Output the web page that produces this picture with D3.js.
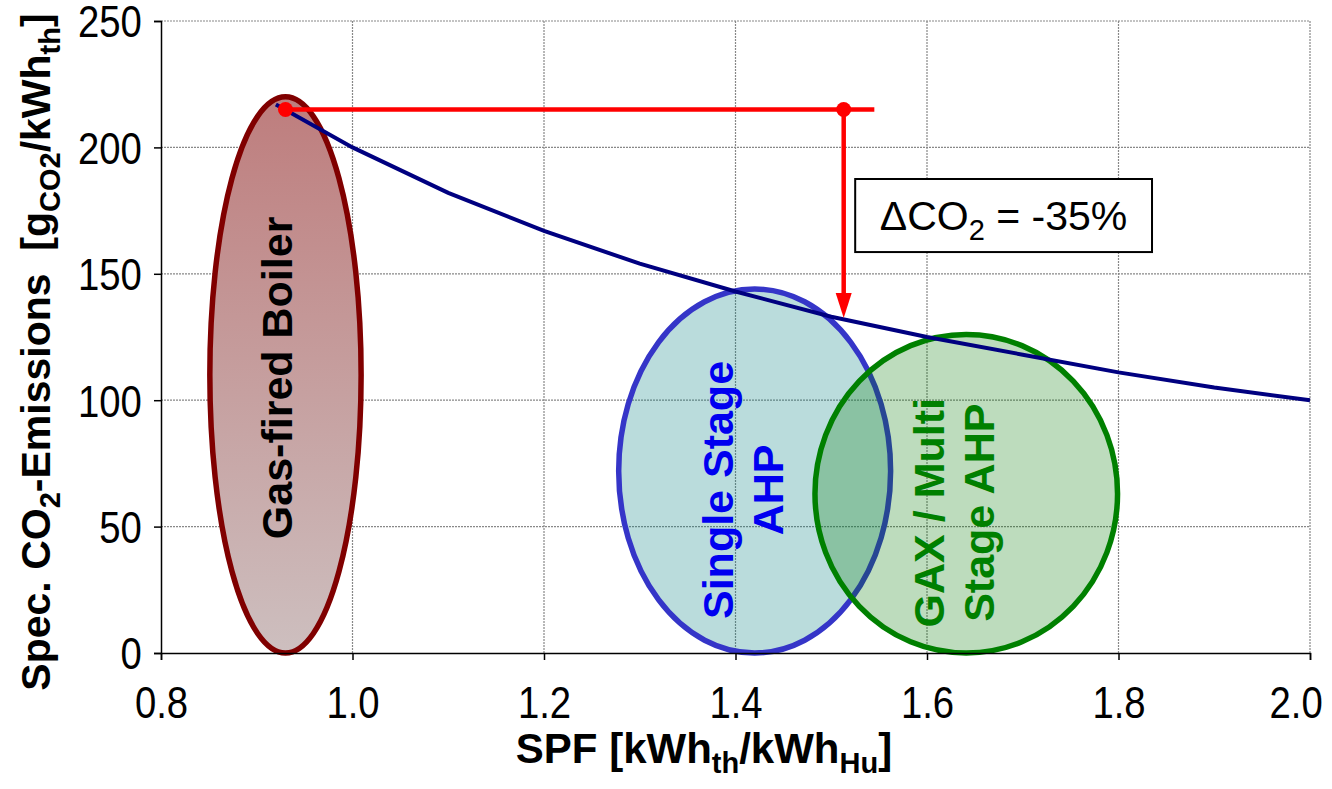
<!DOCTYPE html>
<html>
<head>
<meta charset="utf-8">
<script src="https://cdn.jsdelivr.net/npm/d3@7/dist/d3.min.js"></script>
<style>
  body { margin: 0; background: #fff; }
  svg text { font-family: "Liberation Sans", Arial, sans-serif; }
</style>
</head>
<body>
<svg id="chart" width="1332" height="789"></svg>
<script>
// curve: specific CO2 emissions vs SPF
var spfValues = [0.92, 1.0, 1.1, 1.2, 1.3, 1.4, 1.5, 1.6, 1.7, 1.8, 1.9, 2.0];
var co2Values = [217, 200, 182, 167, 154, 143, 133, 125, 118, 111, 105, 100];

// technology regions (centre SPF, centre CO2, half-width SPF, half-height CO2)
var regionNames = ['Gas-fired Boiler', 'Single Stage AHP', 'GAX / Multi Stage AHP'];
var regionLabels = [['Gas-fired Boiler'], ['Single Stage', 'AHP'], ['GAX / Multi', 'Stage AHP']];
var regionCx = [0.930, 1.420, 1.641];
var regionCy = [110, 72, 63];
var regionRx = [0.079, 0.142, 0.158];
var regionRy = [110, 72, 63];

// reduction annotation
var refSpf = [0.93, 1.513];
var refCo2 = 215;
var refLineEnd = 1.545;
var arrowTipCo2 = 132.5;
var boxSpf = [1.525, 1.835];
var boxCo2 = [187.5, 158.6];

var xTicks = [0.8, 1.0, 1.2, 1.4, 1.6, 1.8, 2.0];
var yTicks = [0, 50, 100, 150, 200, 250];

var svg = d3.select('#chart');
var margin = {left: 161, right: 22, top: 21, bottom: 136};
var W = 1332, H = 789;

var x = d3.scaleLinear().domain([0.8, 2.0]).range([margin.left, W - margin.right]);
var y = d3.scaleLinear().domain([0, 250]).range([H - margin.bottom, margin.top]);

// gridlines
var grid = svg.append('g');
grid.selectAll('.gx').data(xTicks.slice(1)).enter().append('line')
    .attr('x1', function(d){ return x(d); }).attr('x2', function(d){ return x(d); })
    .attr('y1', y(0)).attr('y2', y(250))
    .attr('stroke', '#888').attr('stroke-width', 1.2).attr('stroke-dasharray', '2,1');
grid.selectAll('.gy').data(yTicks.slice(1)).enter().append('line')
    .attr('x1', x(0.8)).attr('x2', x(2.0))
    .attr('y1', function(d){ return y(d); }).attr('y2', function(d){ return y(d); })
    .attr('stroke', '#888').attr('stroke-width', 1.2).attr('stroke-dasharray', '2,1');

// gradient for boiler
var defs = svg.append('defs');
var grad = defs.append('linearGradient').attr('id', 'boilerGrad')
    .attr('x1', 0).attr('y1', 0).attr('x2', 0).attr('y2', 1);
grad.append('stop').attr('offset', '0%').attr('stop-color', '#be7d7d');
grad.append('stop').attr('offset', '100%').attr('stop-color', '#cdbfbf');

var fills = ['url(#boilerGrad)', 'rgba(0,126,126,0.27)', 'rgba(0,120,0,0.26)'];
var strokes = ['#800000', '#3535c8', '#008000'];
var textColors = ['#000000', '#0000f0', '#008000'];

var regions = svg.append('g');
regionNames.forEach(function(name, i){
    regions.append('ellipse')
        .attr('cx', x(regionCx[i]))
        .attr('cy', y(regionCy[i]))
        .attr('rx', x(regionCx[i] + regionRx[i]) - x(regionCx[i]))
        .attr('ry', y(0) - y(regionRy[i]))
        .attr('fill', fills[i])
        .attr('stroke', strokes[i])
        .attr('stroke-width', 5.5);
});

// curve
var line = d3.line()
    .x(function(d){ return x(d[0]); })
    .y(function(d){ return y(d[1]); });
svg.append('path')
    .datum(d3.zip(spfValues, co2Values))
    .attr('d', line)
    .attr('fill', 'none')
    .attr('stroke', '#000080')
    .attr('stroke-width', 4);

// axes
var yAxis = svg.append('g').attr('transform', 'translate(' + x(0.8) + ',0)')
    .call(d3.axisLeft(y).tickValues(yTicks).tickSize(7).tickFormat(d3.format('d')));
var xAxis = svg.append('g').attr('transform', 'translate(0,' + y(0) + ')')
    .call(d3.axisBottom(x).tickValues(xTicks).tickSize(7).tickFormat(d3.format('.1f')));
[xAxis, yAxis].forEach(function(a){
    a.select('.domain').attr('stroke', '#000').attr('stroke-width', 1.5);
    a.selectAll('.tick line').attr('stroke', '#000').attr('stroke-width', 1.5);
    a.selectAll('.tick text').attr('fill', '#000')
        .attr('transform', 'scale(0.87,1)')
        .style('font-size', '44px').style('font-family', '"Liberation Sans", Arial, sans-serif');
});
yAxis.selectAll('.tick text').attr('x', -22).attr('dy', '0.36em');
xAxis.selectAll('.tick text').attr('y', 34).attr('dy', '0.71em');
// last label is pulled in so it stays inside the frame
xAxis.selectAll('.tick text').filter(function(d){ return d === 2.0; })
    .attr('text-anchor', 'end').attr('x', 14);

// region labels
regionLabels.forEach(function(lines, i){
    var cx = x(regionCx[i]) - (i === 0 ? 8 : 12), cy = y(regionCy[i]) + (i === 0 ? 3 : 19);
    var t = svg.append('text')
        .attr('transform', 'translate(' + cx + ',' + cy + ') rotate(-90)')
        .attr('text-anchor', 'middle')
        .attr('fill', textColors[i])
        .style('font-size', '43px').style('font-weight', 'bold');
    lines.forEach(function(s, j){
        t.append('tspan').attr('x', 0)
            .attr('y', (j - (lines.length - 1) / 2) * 50 + 15)
            .text(s);
    });
});

// reduction annotation
var red = '#ff0000';
svg.append('line')
    .attr('x1', x(refSpf[0])).attr('x2', x(refLineEnd))
    .attr('y1', y(refCo2)).attr('y2', y(refCo2))
    .attr('stroke', red).attr('stroke-width', 4.5);
svg.append('line')
    .attr('x1', x(refSpf[1])).attr('x2', x(refSpf[1]))
    .attr('y1', y(refCo2)).attr('y2', y(arrowTipCo2) - 20)
    .attr('stroke', red).attr('stroke-width', 4.5);
var arrow = d3.path(), ax = x(refSpf[1]), ay = y(arrowTipCo2);
arrow.moveTo(ax, ay); arrow.lineTo(ax - 8, ay - 25); arrow.lineTo(ax + 8, ay - 25); arrow.closePath();
svg.append('path').attr('d', arrow.toString()).attr('fill', red);
svg.selectAll('.refdot').data(refSpf).enter().append('circle')
    .attr('cx', function(d){ return x(d); })
    .attr('cy', y(refCo2))
    .attr('r', 7.5)
    .attr('fill', red);

// delta box
svg.append('rect')
    .attr('x', x(boxSpf[0])).attr('y', y(boxCo2[0]))
    .attr('width', x(boxSpf[1]) - x(boxSpf[0]))
    .attr('height', y(boxCo2[1]) - y(boxCo2[0]))
    .attr('fill', '#fff').attr('stroke', '#000').attr('stroke-width', 2);
var dt = svg.append('text')
    .attr('x', (x(boxSpf[0]) + x(boxSpf[1])) / 2)
    .attr('y', 230)
    .attr('text-anchor', 'middle')
    .style('font-size', '41px');
dt.append('tspan').text('\u0394CO');
dt.append('tspan').attr('dy', 10).style('font-size', '29px').text('2');
dt.append('tspan').attr('dy', -10).text(' = -35%');

// axis titles
var xt = svg.append('text')
    .attr('x', 704).attr('y', 763)
    .attr('text-anchor', 'middle')
    .style('font-size', '42px').style('font-weight', 'bold');
xt.append('tspan').text('SPF [kWh');
xt.append('tspan').attr('dy', 10).style('font-size', '29px').text('th');
xt.append('tspan').attr('dy', -10).text('/kWh');
xt.append('tspan').attr('dy', 10).style('font-size', '29px').text('Hu');
xt.append('tspan').attr('dy', -10).text(']');

var yt = svg.append('text')
    .attr('transform', 'translate(50,352) rotate(-90)')
    .attr('text-anchor', 'middle')
    .style('font-size', '41px').style('font-weight', 'bold');
yt.append('tspan').text('Spec. CO');
yt.append('tspan').attr('dy', 10).style('font-size', '29px').text('2');
yt.append('tspan').attr('dy', -10).text('-Emissions\u00a0\u00a0[g');
yt.append('tspan').attr('dy', 10).style('font-size', '29px').text('CO2');
yt.append('tspan').attr('dy', -10).text('/kWh');
yt.append('tspan').attr('dy', 10).style('font-size', '29px').text('th');
yt.append('tspan').attr('dy', -10).text(']');
</script>
</body>
</html>
